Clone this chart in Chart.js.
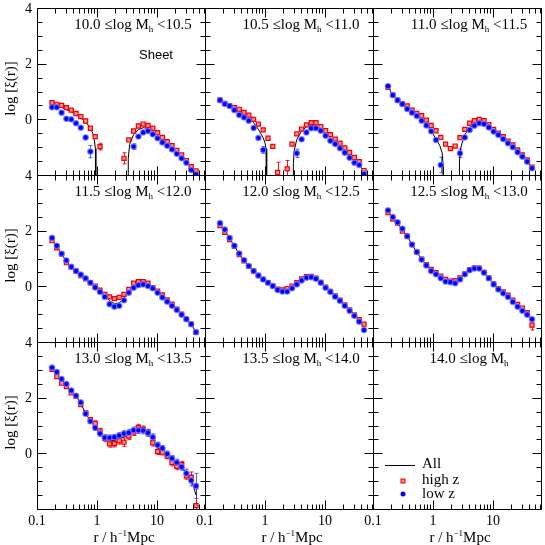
<!DOCTYPE html>
<html>
<head>
<meta charset="utf-8">
<script src="https://cdn.jsdelivr.net/npm/chart.js@4.4.0/dist/chart.umd.min.js"></script>
<style>
    html, body { margin: 0; padding: 0; background: #fff; }
    #wrap { position: relative; width: 545px; height: 545px; overflow: hidden; background: #fff; }
    #wrap canvas { position: absolute; }
</style>
</head>
<body>
<div id="wrap"></div>
<script>
// Separation bins, r in h^-1 Mpc
const R = [0.178, 0.214, 0.257, 0.309, 0.372, 0.447, 0.537, 0.646, 0.776, 0.933,
    1.122, 1.349, 1.622, 1.950, 2.344, 2.818, 3.388, 4.074, 4.898, 5.888,
    7.079, 8.511, 10.23, 12.30, 14.79, 17.78, 21.38, 25.70, 30.90, 37.15, 44.67];

// log xi(r) per halo mass bin, high z / low z samples (null = xi <= 0)
const HIGH_100 = [0.6, 0.54, 0.5, 0.42, 0.33, 0.21, 0.1, -0.06, -0.32, -0.62, -0.98, null, null, null, null, -1.4, -0.74, -0.42, -0.24, -0.17, -0.22, -0.32, -0.48, -0.65, -0.8, -0.95, -1.12, -1.28, -1.48, -1.7, -1.85];
const LOW_100 = [0.43, 0.43, 0.24, 0.02, 0.0, -0.14, -0.3, -0.65, -1.16, null, null, null, null, null, null, null, null, -0.98, -0.62, -0.47, -0.42, -0.54, -0.68, -0.83, -0.95, -1.08, -1.24, -1.4, -1.56, -1.82, -1.98];
const ERR_HIGH_100 = [0, 0, 0, 0, 0, 0, 0, 0, 0, 0, 0.12, 0, 0, 0, 0, 0.2, 0, 0, 0, 0, 0, 0, 0, 0, 0, 0, 0, 0, 0, 0, 0];
const ERR_LOW_100 = [0, 0, 0, 0, 0, 0, 0, 0, 0.22, 0, 0, 0, 0, 0, 0, 0, 0, 0.1, 0, 0, 0, 0, 0, 0, 0, 0, 0, 0, 0, 0, 0];
const ALL_R_100 = [0.178, 0.214, 0.257, 0.309, 0.372, 0.447, 0.537, 0.646, 0.776, 0.85, 0.9, 0.94, 0.955, 0.96, 3.3, 3.32, 3.5, 4.074, 4.898, 5.888, 7.079, 8.511, 10.23, 12.30, 14.79, 17.78, 21.38, 25.70, 30.90, 37.15, 44.67, 50.0];
const ALL_100 = [0.52, 0.48, 0.43, 0.35, 0.27, 0.17, 0.06, -0.1, -0.3, -0.5, -0.72, -1.05, -1.4, -5, -5, -1.4, -0.9, -0.55, -0.37, -0.3, -0.33, -0.43, -0.57, -0.72, -0.87, -1.02, -1.18, -1.34, -1.52, -1.75, -1.92, -2.05];

const HIGH_105 = [0.69, 0.57, 0.49, 0.42, 0.36, 0.25, 0.15, 0.0, -0.17, -0.38, -0.68, -0.97, -1.91, null, -1.78, -0.89, -0.52, -0.35, -0.2, -0.12, -0.12, -0.26, -0.41, -0.55, -0.71, -0.86, -1.03, -1.19, -1.37, -1.52, -1.84];
const LOW_105 = [0.69, 0.55, 0.48, 0.33, 0.16, 0.07, -0.05, -0.31, -0.67, -1.1, null, null, null, null, null, null, -1.22, -0.72, -0.47, -0.32, -0.32, -0.41, -0.59, -0.77, -0.89, -1.04, -1.2, -1.38, -1.56, -1.64, -1.96];
const ERR_HIGH_105 = [0, 0, 0, 0, 0, 0, 0, 0, 0, 0, 0, 0, 0.37, 0, 0.3, 0, 0, 0, 0, 0, 0, 0, 0, 0, 0, 0, 0, 0, 0, 0, 0];
const ERR_LOW_105 = [0, 0, 0, 0, 0, 0, 0, 0, 0, 0.12, 0, 0, 0, 0, 0, 0, 0.15, 0, 0, 0, 0, 0, 0, 0, 0, 0, 0, 0, 0, 0, 0];
const ALL_R_105 = [0.178, 0.214, 0.257, 0.309, 0.372, 0.447, 0.537, 0.646, 0.776, 0.933, 1.0, 1.04, 1.065, 1.07, 2.96, 2.97, 3.05, 3.388, 4.074, 4.898, 5.888, 7.079, 8.511, 10.23, 12.30, 14.79, 17.78, 21.38, 25.70, 30.90, 37.15, 44.67];
const ALL_105 = [0.69, 0.56, 0.48, 0.4, 0.3, 0.18, 0.05, -0.12, -0.36, -0.66, -0.85, -1.05, -1.5, -5, -5, -1.6, -1.15, -0.72, -0.42, -0.27, -0.22, -0.24, -0.33, -0.5, -0.66, -0.8, -0.95, -1.12, -1.28, -1.46, -1.6, -1.9];

const HIGH_110 = [1.15, 0.87, 0.68, 0.56, 0.48, 0.33, 0.21, 0.13, -0.03, -0.22, -0.41, -0.65, -0.89, -1.05, -0.96, -0.66, -0.36, -0.14, -0.05, 0.0, -0.05, -0.19, -0.36, -0.5, -0.62, -0.78, -0.92, -1.1, -1.28, -1.46, -1.72];
const LOW_110 = [1.19, 0.87, 0.69, 0.55, 0.37, 0.24, 0.12, -0.05, -0.22, -0.43, -0.74, -1.64, null, null, null, -1.22, -0.65, -0.38, -0.23, -0.14, -0.17, -0.29, -0.44, -0.56, -0.71, -0.86, -1.0, -1.18, -1.34, -1.52, -1.76];
const ERR_HIGH_110 = [0, 0, 0, 0, 0, 0, 0, 0, 0, 0, 0, 0, 0, 0, 0, 0, 0, 0, 0, 0, 0, 0, 0, 0, 0, 0, 0, 0, 0, 0, 0];
const ERR_LOW_110 = [0, 0, 0, 0, 0, 0, 0, 0, 0, 0, 0, 0.28, 0, 0, 0, 0.15, 0, 0, 0, 0, 0, 0, 0, 0, 0, 0, 0, 0, 0, 0, 0];
const ALL_R_110 = [0.178, 0.214, 0.257, 0.309, 0.372, 0.447, 0.537, 0.646, 0.776, 0.933, 1.122, 1.3, 1.42, 1.47, 1.49, 2.75, 2.76, 2.85, 3.05, 3.388, 4.074, 4.898, 5.888, 7.079, 8.511, 10.23, 12.30, 14.79, 17.78, 21.38, 25.70, 30.90, 37.15, 44.67];
const ALL_110 = [1.17, 0.87, 0.69, 0.55, 0.4, 0.26, 0.14, -0.02, -0.2, -0.42, -0.7, -0.95, -1.2, -1.6, -5, -5, -1.5, -1.1, -0.85, -0.55, -0.3, -0.17, -0.1, -0.12, -0.24, -0.4, -0.53, -0.67, -0.82, -0.96, -1.14, -1.31, -1.49, -1.76];

const HIGH_115 = [1.64, 1.38, 1.17, 0.85, 0.69, 0.55, 0.39, 0.27, 0.13, 0.01, -0.14, -0.29, -0.38, -0.44, -0.4, -0.29, -0.11, 0.11, 0.17, 0.17, 0.11, -0.05, -0.17, -0.31, -0.49, -0.64, -0.82, -1.0, -1.18, -1.36, -1.65];
const LOW_115 = [1.74, 1.46, 1.17, 0.93, 0.7, 0.55, 0.42, 0.29, 0.13, -0.04, -0.2, -0.38, -0.64, -0.73, -0.7, -0.5, -0.23, -0.05, 0.04, 0.07, 0.01, -0.07, -0.23, -0.4, -0.55, -0.7, -0.85, -1.02, -1.18, -1.36, -1.65];
const ALL_115 = [1.69, 1.42, 1.17, 0.89, 0.7, 0.55, 0.41, 0.28, 0.13, -0.02, -0.17, -0.34, -0.52, -0.62, -0.6, -0.42, -0.18, 0.0, 0.08, 0.1, 0.05, -0.06, -0.2, -0.36, -0.52, -0.67, -0.84, -1.01, -1.18, -1.36, -1.65];

const HIGH_120 = [2.18, 1.94, 1.68, 1.44, 1.14, 0.92, 0.72, 0.55, 0.39, 0.25, 0.13, 0.02, -0.1, -0.13, -0.08, 0.01, 0.13, 0.27, 0.35, 0.36, 0.29, 0.14, -0.03, -0.18, -0.34, -0.5, -0.67, -0.85, -1.03, -1.2, -1.36];
const LOW_120 = [2.27, 2.04, 1.74, 1.46, 1.18, 0.94, 0.73, 0.55, 0.39, 0.25, 0.13, 0.01, -0.13, -0.19, -0.19, -0.07, 0.07, 0.21, 0.31, 0.33, 0.27, 0.13, -0.05, -0.2, -0.37, -0.52, -0.7, -0.88, -1.06, -1.27, -1.57];
const ALL_120 = [2.22, 1.99, 1.71, 1.45, 1.16, 0.93, 0.72, 0.55, 0.39, 0.25, 0.13, 0.01, -0.12, -0.16, -0.14, -0.03, 0.1, 0.24, 0.33, 0.34, 0.28, 0.13, -0.04, -0.19, -0.35, -0.51, -0.68, -0.86, -1.04, -1.23, -1.46];

const HIGH_125 = [2.65, 2.42, 2.27, 1.98, 1.8, 1.5, 1.24, 0.98, 0.78, 0.61, 0.49, 0.37, 0.25, 0.19, 0.2, 0.3, 0.45, 0.6, 0.66, 0.65, 0.5, 0.3, 0.1, -0.08, -0.2, -0.32, -0.5, -0.65, -0.78, -0.95, -1.39];
const LOW_125 = [2.73, 2.49, 2.3, 2.07, 1.8, 1.5, 1.23, 0.96, 0.75, 0.55, 0.43, 0.29, 0.17, 0.15, 0.11, 0.25, 0.43, 0.58, 0.64, 0.64, 0.49, 0.29, 0.07, -0.11, -0.25, -0.38, -0.56, -0.73, -0.88, -1.02, -1.18];
const ERR_HIGH_125 = [0, 0, 0, 0, 0, 0, 0, 0, 0, 0, 0, 0, 0, 0, 0, 0, 0, 0, 0, 0, 0, 0, 0, 0, 0, 0, 0, 0, 0, 0, 0.18];
const ALL_125 = [2.69, 2.45, 2.28, 2.02, 1.8, 1.5, 1.23, 0.97, 0.76, 0.58, 0.46, 0.33, 0.21, 0.17, 0.15, 0.27, 0.44, 0.59, 0.65, 0.64, 0.49, 0.29, 0.08, -0.1, -0.23, -0.35, -0.53, -0.69, -0.83, -0.98, -1.25];

const HIGH_130 = [3.02, 2.76, 2.52, 2.4, 2.17, 2.05, 1.75, 1.45, 1.21, 1.07, 0.8, 0.54, 0.34, 0.35, 0.45, 0.4, 0.62, 0.76, 0.92, 0.86, 0.74, 0.38, 0.06, 0.04, -0.1, -0.33, -0.47, -0.41, -0.81, -0.87, -1.88];
const LOW_130 = [3.08, 2.92, 2.67, 2.49, 2.26, 2.07, 1.83, 1.42, 1.15, 0.92, 0.71, 0.56, 0.56, 0.58, 0.64, 0.71, 0.74, 0.83, 0.83, 0.82, 0.74, 0.58, 0.3, 0.18, -0.02, -0.18, -0.33, -0.49, -0.72, -0.97, -1.17];
const ERR_HIGH_130 = [0, 0, 0, 0, 0, 0, 0, 0.05, 0.07, 0.1, 0.1, 0.12, 0.12, 0.12, 0.12, 0.15, 0.12, 0.12, 0.12, 0.12, 0.12, 0.12, 0.1, 0.1, 0.1, 0.12, 0.12, 0.12, 0.12, 0.2, 0.6];
const ERR_LOW_130 = [0, 0, 0, 0, 0, 0, 0, 0.05, 0.07, 0.1, 0.1, 0.1, 0.1, 0.1, 0.1, 0.1, 0.12, 0.12, 0.12, 0.12, 0.12, 0.12, 0.1, 0.1, 0.1, 0.1, 0.12, 0.12, 0.15, 0.2, 0.45];
const ALL_130 = [3.05, 2.84, 2.6, 2.44, 2.22, 2.06, 1.79, 1.43, 1.18, 0.98, 0.76, 0.57, 0.47, 0.47, 0.55, 0.58, 0.68, 0.8, 0.86, 0.84, 0.74, 0.5, 0.2, 0.12, -0.05, -0.25, -0.4, -0.45, -0.75, -0.92, -1.5];

// Axis ticks
const X_MAJOR = [0.1, 1, 10];
const X_LABELS = ['0.1', '1', '10'];
const X_MINOR = [0.2, 0.3, 0.4, 0.5, 0.6, 0.7, 0.8, 0.9, 2, 3, 4, 5, 6, 7, 8, 9, 20, 30, 40, 50, 60];
const Y_MAJOR = [-2, 0, 2, 4];
const Y_LABELS = [null, '0', '2', '4'];
const Y_MINOR = [-1.5, -1, -0.5, 0.5, 1, 1.5, 2.5, 3, 3.5];

const PANELS = [
    { lo: '10.0', hi: '10.5', high: HIGH_100, low: LOW_100, errHigh: ERR_HIGH_100, errLow: ERR_LOW_100, allR: ALL_R_100, all: ALL_100, note: 'Sheet' },
    { lo: '10.5', hi: '11.0', high: HIGH_105, low: LOW_105, errHigh: ERR_HIGH_105, errLow: ERR_LOW_105, allR: ALL_R_105, all: ALL_105 },
    { lo: '11.0', hi: '11.5', high: HIGH_110, low: LOW_110, errHigh: ERR_HIGH_110, errLow: ERR_LOW_110, allR: ALL_R_110, all: ALL_110 },
    { lo: '11.5', hi: '12.0', high: HIGH_115, low: LOW_115, all: ALL_115 },
    { lo: '12.0', hi: '12.5', high: HIGH_120, low: LOW_120, all: ALL_120 },
    { lo: '12.5', hi: '13.0', high: HIGH_125, low: LOW_125, errHigh: ERR_HIGH_125, all: ALL_125 },
    { lo: '13.0', hi: '13.5', high: HIGH_130, low: LOW_130, errHigh: ERR_HIGH_130, errLow: ERR_LOW_130, all: ALL_130 },
    { lo: '13.5', hi: '14.0' },
    { lo: '14.0', hi: null, legend: true }
];

// Layout of the 3x3 grid (page pixels)
const COL_X = [37, 205, 373];
const ROW_Y = [8, 175, 342];
const PW = 168, PH = 167;
const SERIF = '"Liberation Serif", "Times New Roman", serif';
const RED = '#f00000', RED_FILL = '#ff8c8c';
const BLUE = '#0000ff', BLUE_EDGE = 'rgba(110,120,255,0.75)';

// Draw text made of pieces, some sub- or superscript
function richText(ctx, parts, x, y, align, size) {
    const small = Math.round(size * 0.62);
    const widths = parts.map(([t, mode]) => {
        ctx.font = (mode ? small : size) + 'px ' + SERIF;
        return ctx.measureText(t).width;
    });
    const total = widths.reduce((s, w) => s + w, 0);
    let cx = align === 'center' ? x - total / 2 : (align === 'right' ? x - total : x);
    ctx.textAlign = 'left';
    ctx.textBaseline = 'middle';
    parts.forEach(([t, mode], i) => {
        ctx.font = (mode ? small : size) + 'px ' + SERIF;
        const dy = mode === 'sub' ? size * 0.28 : (mode === 'sup' ? -size * 0.3 : 0);
        ctx.fillText(t, cx, y + dy);
        cx += widths[i];
    });
}

function drawErrors(chart, vals, errs, color) {
    if (!vals || !errs) return;
    const { ctx, chartArea: a, scales: { x, y } } = chart;
    ctx.save();
    ctx.beginPath();
    ctx.rect(a.left, a.top, a.right - a.left, a.bottom - a.top);
    ctx.clip();
    ctx.strokeStyle = color;
    ctx.lineWidth = 1;
    ctx.beginPath();
    vals.forEach((v, i) => {
        if (v === null || !errs[i]) return;
        const px = Math.round(x.getPixelForValue(R[i])) + 0.5;
        const y1 = y.getPixelForValue(v + errs[i]);
        const y2 = y.getPixelForValue(v - errs[i]);
        ctx.moveTo(px, y1); ctx.lineTo(px, y2);
        ctx.moveTo(px - 2, y1); ctx.lineTo(px + 2, y1);
        ctx.moveTo(px - 2, y2); ctx.lineTo(px + 2, y2);
    });
    ctx.stroke();
    ctx.restore();
}

const decoPlugin = {
    id: 'deco',
    beforeDatasetsDraw(chart) {
        const p = chart.options.plugins.deco.panel;
        drawErrors(chart, p.high, p.errHigh, 'rgba(240,0,0,0.9)');
        drawErrors(chart, p.low, p.errLow, 'rgba(40,40,255,0.75)');
    },
    afterDraw(chart) {
        const { panel: p, col, row } = chart.options.plugins.deco;
        const { ctx, chartArea: a, scales: { x, y } } = chart;
        const L = Math.round(a.left) + 0.5, Rt = Math.round(a.right) + 0.5;
        const T = Math.round(a.top) + 0.5, B = Math.round(a.bottom) + 0.5;
        ctx.save();
        ctx.strokeStyle = '#000';
        ctx.fillStyle = '#000';
        ctx.lineWidth = 1;

        // frame and inward ticks on all four sides
        ctx.beginPath();
        ctx.rect(L, T, Rt - L, B - T);
        const xTick = (v, len) => {
            const px = Math.round(x.getPixelForValue(v)) + 0.5;
            ctx.moveTo(px, B); ctx.lineTo(px, B - len);
            ctx.moveTo(px, T); ctx.lineTo(px, T + len);
        };
        const yTick = (v, len) => {
            const py = Math.round(y.getPixelForValue(v)) + 0.5;
            ctx.moveTo(L, py); ctx.lineTo(L + len, py);
            ctx.moveTo(Rt, py); ctx.lineTo(Rt - len, py);
        };
        X_MAJOR.forEach(v => xTick(v, 9));
        X_MINOR.forEach(v => xTick(v, 5));
        Y_MAJOR.forEach(v => yTick(v, 9));
        Y_MINOR.forEach(v => yTick(v, 5));
        ctx.stroke();

        // tick labels
        ctx.font = '14px ' + SERIF;
        if (col === 0) {
            ctx.textAlign = 'right';
            ctx.textBaseline = 'middle';
            Y_MAJOR.forEach((v, i) => {
                if (Y_LABELS[i]) ctx.fillText(Y_LABELS[i], a.left - 5, y.getPixelForValue(v) + 1);
            });
            ctx.save();
            ctx.translate(a.left - 26, (a.top + a.bottom) / 2 - 3);
            ctx.rotate(-Math.PI / 2);
            richText(ctx, [['log [\u03be(r)]']], 0, 0, 'center', 15);
            ctx.restore();
        }
        if (row === 2) {
            ctx.font = '14px ' + SERIF;
            ctx.textAlign = 'center';
            ctx.textBaseline = 'middle';
            X_MAJOR.forEach((v, i) => ctx.fillText(X_LABELS[i], x.getPixelForValue(v), a.bottom + 12));
            richText(ctx, [['r / h'], ['\u22121', 'sup'], ['Mpc']], (a.left + a.right) / 2 + 3, a.bottom + 29, 'center', 15);
        }

        // mass bin label
        const parts = [[p.lo + ' \u2264log M'], ['h', 'sub']];
        if (p.hi) parts.push([' <' + p.hi]);
        richText(ctx, parts, a.left + 96, a.top + 17, 'center', 15);

        if (p.note) {
            ctx.font = '13px "Liberation Sans", Arial, sans-serif';
            ctx.textAlign = 'center';
            ctx.textBaseline = 'middle';
            ctx.fillText(p.note, a.left + 119, a.top + 47);
        }

        if (p.legend) {
            const lx = a.left + 12, tx = a.left + 49;
            ctx.beginPath();
            ctx.moveTo(lx, a.top + 123.5); ctx.lineTo(lx + 30, a.top + 123.5);
            ctx.stroke();
            ctx.fillStyle = RED_FILL;
            ctx.strokeStyle = RED;
            ctx.fillRect(lx + 16, a.top + 137, 4, 4);
            ctx.strokeRect(lx + 16, a.top + 137, 4, 4);
            ctx.fillStyle = BLUE;
            ctx.beginPath();
            ctx.arc(lx + 18, a.top + 152, 2.5, 0, Math.PI * 2);
            ctx.fill();
            ctx.fillStyle = '#000';
            richText(ctx, [['All']], tx, a.top + 122, 'left', 15);
            richText(ctx, [['high z']], tx, a.top + 138, 'left', 15);
            richText(ctx, [['low z']], tx, a.top + 152, 'left', 15);
        }
        ctx.restore();
    }
};

function toPoints(xs, ys) {
    const pts = [];
    ys.forEach((v, i) => { if (v !== null) pts.push({ x: xs[i], y: v }); });
    return pts;
}

const wrap = document.getElementById('wrap');

PANELS.forEach((p, k) => {
    const col = k % 3, row = Math.floor(k / 3);
    const side = row === 2 ? 14 : 6;
    const pad = { left: col === 0 ? 37 : side, right: side, top: 6, bottom: row === 2 ? 36 : 6 };
    const canvas = document.createElement('canvas');
    canvas.width = pad.left + PW + pad.right;
    canvas.height = pad.top + PH + pad.bottom;
    canvas.style.width = canvas.width + 'px';
    canvas.style.height = canvas.height + 'px';
    canvas.style.left = (COL_X[col] - pad.left) + 'px';
    canvas.style.top = (ROW_Y[row] - pad.top) + 'px';
    wrap.appendChild(canvas);

    // first dataset is painted last (on top)
    const datasets = [];
    if (p.low) {
        datasets.push({
            label: 'low z', data: toPoints(R, p.low),
            pointStyle: 'circle', pointRadius: 2.7, pointBorderWidth: 1.2,
            backgroundColor: BLUE, borderColor: BLUE_EDGE, showLine: false
        });
        datasets.push({
            label: 'high z', data: toPoints(R, p.high),
            pointStyle: 'rect', pointRadius: 2.9, pointBorderWidth: 1.2,
            backgroundColor: RED_FILL, borderColor: RED, showLine: false
        });
        datasets.push({
            label: 'All', data: toPoints(p.allR || R, p.all),
            showLine: true, pointRadius: 0, borderColor: '#000', borderWidth: 1,
            tension: 0, fill: false
        });
    }

    new Chart(canvas, {
        type: 'scatter',
        data: { datasets: datasets },
        options: {
            responsive: false,
            animation: false,
            devicePixelRatio: 1,
            layout: { padding: pad },
            events: [],
            scales: {
                x: { type: 'logarithmic', min: 0.1, max: 63.0957, display: false },
                y: { type: 'linear', min: -2, max: 4, display: false }
            },
            plugins: {
                legend: { display: false },
                tooltip: { enabled: false },
                deco: { panel: p, col: col, row: row }
            }
        },
        plugins: [decoPlugin]
    });
});
</script>
</body>
</html>
